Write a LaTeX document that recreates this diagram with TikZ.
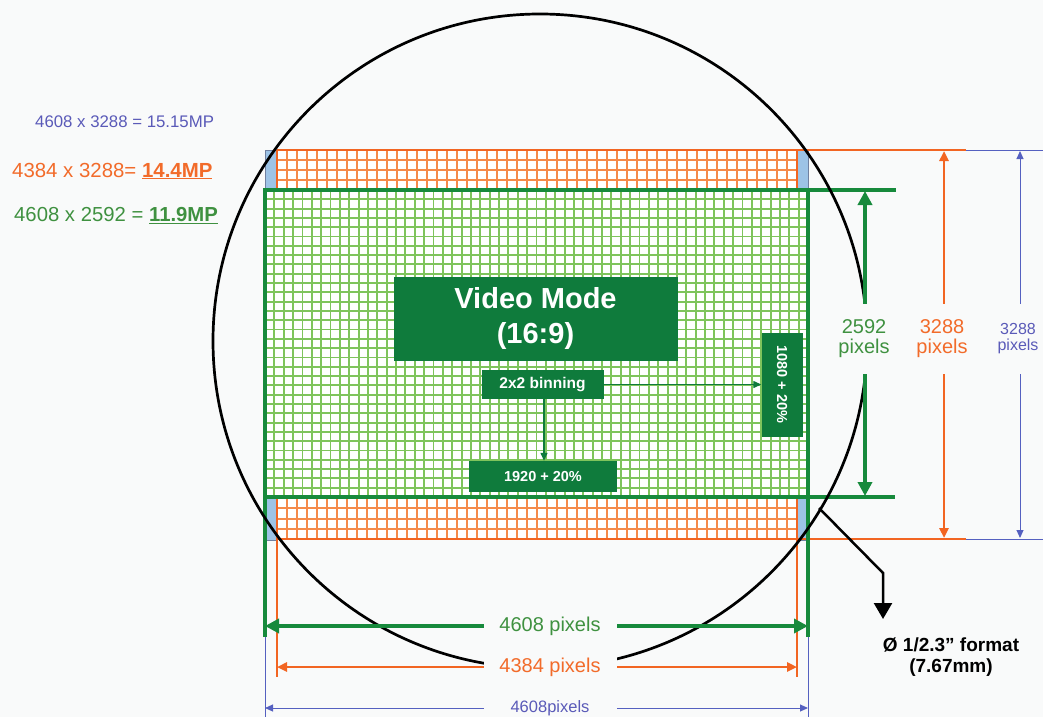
\documentclass[tikz,border=0pt]{standalone}
\usepackage{fontspec}
\setmainfont{Liberation Sans}
\usetikzlibrary{arrows.meta}
\definecolor{bg}{HTML}{F9FAFA}
\definecolor{dgreen}{HTML}{178A3C}
\definecolor{boxgreen}{HTML}{0F7B3C}
\definecolor{lgreen}{HTML}{7FC45C}
\definecolor{orng}{HTML}{F26522}
\definecolor{lorng}{HTML}{F58A4A}
\definecolor{blu}{HTML}{5560C0}
\definecolor{lblue}{HTML}{9DC3E6}
\definecolor{cornerdraw}{HTML}{7080A0}
\definecolor{tgreen}{HTML}{3F9140}
\definecolor{torng}{HTML}{F26B2A}
\definecolor{tblue}{HTML}{5A5AB8}
\newcommand\myfs[1]{\fontsize{#1}{#1}\selectfont}
\begin{document}
\begin{tikzpicture}[x=1pt,y=-1pt,
  corner/.style={fill=lblue,draw=cornerdraw,line width=1pt},
  ogrid/.style={draw=lorng,line width=2pt},
  ggrid/.style={draw=lgreen,line width=1.9pt},
  oline/.style={draw=orng,line width=2.8pt},
  gline/.style={draw=dgreen,line width=4pt},
  bline/.style={draw=blu,line width=1pt},
  gbox/.style={fill=boxgreen,text=white,font=\bfseries,inner sep=0pt},
  smallarrow/.style={draw=boxgreen,line width=1.3pt,-{Triangle[length=8pt,width=7pt]}},
  gdim/.style={draw=dgreen,line width=4pt,{Triangle[length=14pt,width=14pt]}-{Triangle[length=14pt,width=14pt]}},
  odim/.style={draw=orng,line width=2.5pt,{Triangle[length=10pt,width=9pt]}-{Triangle[length=10pt,width=9pt]}},
  bdim/.style={draw=blu,line width=1pt,{Triangle[length=8pt,width=7pt]}-{Triangle[length=8pt,width=7pt]}},
  dimlab/.style={fill=bg,inner sep=0pt,align=center}
]
\fill[bg] (0,0) rectangle (1043,717);
\useasboundingbox (0,0) rectangle (1043,717);

% corner rectangles
\draw[corner] (265,150) rectangle (277,190);
\draw[corner] (797,150) rectangle (808,190);
\draw[corner] (265,497) rectangle (277,540);
\draw[corner] (797,497) rectangle (808,540);

% grid backgrounds
\fill[white] (277,150) rectangle (797,190);
\fill[white] (277,497) rectangle (797,540);
\fill[white] (265,190) rectangle (808,497);

% orange grids
\foreach \i in {1,...,51} {
  \draw[ogrid] ({277+\i*10},150) -- ({277+\i*10},190);
  \draw[ogrid] ({277+\i*10},497) -- ({277+\i*10},540);
}
\foreach \j in {1,2,3} {
  \draw[ogrid] (277,{150+\j*10}) -- (797,{150+\j*10});
  \draw[ogrid] (277,{497+\j*10.75}) -- (797,{497+\j*10.75});
}
% green grid
\foreach \i in {1,...,57}
  \draw[ggrid] ({265+\i*9.362},190) -- ({265+\i*9.362},497);
\foreach \j in {1,...,32}
  \draw[ggrid] (265,{190+\j*9.303}) -- (808,{190+\j*9.303});

% orange frame lines
\draw[oline] (277,150) -- (966,150);
\draw[oline] (277,539) -- (966,539);
\draw[oline] (277,150) -- (277,190);
\draw[oline] (797,150) -- (797,190);
\draw[oline] (277,497) -- (277,677);
\draw[oline] (797,497) -- (797,677);

% green frame lines
\draw[gline] (265,190) -- (896,190);
\draw[gline] (265,497) -- (895,497);
\draw[gline] (265,188) -- (265,637);
\draw[gline] (808,188) -- (808,637);

% blue extension lines
\draw[bline] (265,637) -- (265,717);
\draw[bline] (808,637) -- (808,717);
\draw[bline] (966,150) -- (1043,150);
\draw[bline] (966,539) -- (1043,539);

% lens circle
\draw[black,line width=2.7pt] (540,341) circle[radius=327];

% central boxes
\node[gbox,minimum width=284pt,minimum height=84pt,align=center,font=\bfseries\myfs{29}] (video) at (535.5,318.5) {Video Mode\\[6pt](16:9)};
\node[gbox,minimum width=122pt,minimum height=29pt,font=\bfseries\myfs{15.5}] (bin) at (542.5,384.5) {2x2 binning};
\node[gbox,minimum width=148pt,minimum height=31pt,font=\bfseries\myfs{14.5}] (b1920) at (543,476.5) {1920 + 20\%};
\node[gbox,minimum width=41pt,minimum height=104pt] (b1080) at (782,384.5) {};
\node[text=white,font=\bfseries\myfs{14.5},rotate=-90] (t1080) at (b1080.center) {1080 + 20\%};
\draw[smallarrow] (bin.east) -- (bin.east -| b1080.west);
\draw[smallarrow] (bin.south -| 544,0) -- (b1920.north -| 544,0);

% bottom dimensions
\coordinate (gL) at (265,626); \coordinate (gR) at (808,626);
\coordinate (oL) at (277,667); \coordinate (oR) at (797,667);
\coordinate (bL) at (265,708); \coordinate (bR) at (808,708);
\draw[gdim] (gL) -- (gR);
\draw[odim] (oL) -- (oR);
\draw[bdim] (bL) -- (bR);
\node[dimlab,minimum width=133pt,minimum height=22pt,text=tgreen,font=\myfs{20}] (lg) at (550,626) {4608 pixels};
\node[dimlab,minimum width=133pt,minimum height=22pt,text=torng,font=\myfs{20}] (lo) at (550,667) {4384 pixels};
\node[dimlab,minimum width=133pt,minimum height=18pt,text=tblue,font=\myfs{16.5}] (lb) at (550,708) {4608pixels};

% right dimensions
\coordinate (gT) at (865,191); \coordinate (gB) at (865,496);
\coordinate (oT) at (944,151); \coordinate (oB) at (944,538);
\coordinate (bT) at (1020,151); \coordinate (bB) at (1020,538);
\draw[gdim] (gT) -- (gB);
\draw[odim] (oT) -- (oB);
\draw[bdim] (bT) -- (bB);
\node[dimlab,minimum height=70pt,text=tgreen,font=\myfs{20}] (rg) at (864,339) {2592\\pixels};
\node[dimlab,minimum height=70pt,text=torng,font=\myfs{20}] (ro) at (942,339) {3288\\pixels};
\node[dimlab,minimum height=70pt,text=tblue,font=\myfs{16}] (rb) at (1018,339) {3288\\pixels};

% left texts
\node[anchor=west,inner sep=0pt,text=tblue,font=\myfs{16.8}] (mp1) at (35,122) {4608 x 3288 = 15.15MP};
\node[anchor=west,inner sep=0pt,text=torng,font=\myfs{20.4}] (mp2) at (12,171) {4384 x 3288= \textbf{\underline{14.4MP}}};
\node[anchor=west,inner sep=0pt,text=tgreen,font=\myfs{20.3}] (mp3) at (14,216) {4608 x 2592 = \textbf{\underline{11.9MP}}};

% format pointer
\coordinate (p1) at (819,508);
\coordinate (p2) at (883,573);
\coordinate (p3) at (883,619);
\draw[black,line width=2.5pt,-{Triangle[length=16pt,width=18pt]}] (p1) -- (p2) -- (p3);
\node[inner sep=0pt,align=center,font=\bfseries\myfs{19}] (fmt) at (951,657) {Ø 1/2.3” format\\[2pt](7.67mm)};
\end{tikzpicture}
\end{document}
